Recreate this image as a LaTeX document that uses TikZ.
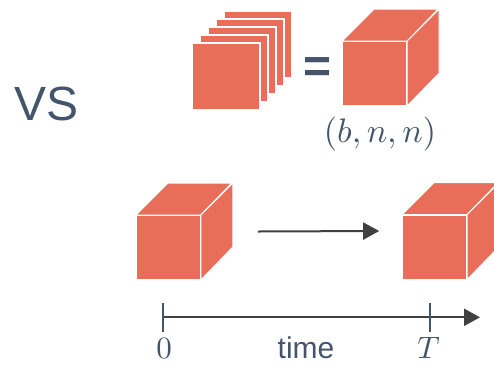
\documentclass[tikz,border=0pt]{standalone}
\usepackage{fontspec}
\newfontfamily\arialfont{Liberation Sans}
\usepackage{tikz}
\usetikzlibrary{positioning,arrows.meta}
\definecolor{cubered}{RGB}{233,110,90}
\definecolor{slate}{RGB}{68,84,106}
\definecolor{darkline}{RGB}{64,64,64}
\tikzset{
  face/.style={fill=cubered,draw=white,line width=1pt,minimum size=64pt,inner sep=0pt},
  sheet/.style={fill=cubered,draw=white,line width=1.2pt,minimum width=68pt,minimum height=67pt,inner sep=0pt},
  cubeside/.style={fill=cubered,draw=white,line width=1pt,line join=round},
  arr/.style={darkline,line width=2pt,-{Triangle[length=16pt,width=17pt]}},
  tick/.style={slate,line width=2pt},
  lbl/.style={text=slate,inner sep=0pt}
}
\newcommand{\cubeat}[2]{
  \node[face] (#1) at (#2) {};
  \path[cubeside] (#1.north west) -- ++(32,-32) -- ++(64,0) -- (#1.north east) -- cycle;
  \path[cubeside] (#1.north east) -- ++(32,-32) -- ++(0,64) -- (#1.south east) -- cycle;
}

\begin{document}
\begin{tikzpicture}[x=1pt,y=-1pt]
  \useasboundingbox (0,0) rectangle (494,365);
  \clip (0,0) rectangle (494,365);
  \node[lbl,anchor=base west,font=\arialfont\fontsize{48}{48}\selectfont] (vs) at (14,120) {VS};
  \foreach \k in {4,3,2,1,0}
  {
  \node[sheet] (sheet\k) at (226+8*\k,76.5-8*\k) {};
}
\node[lbl,font=\arialfont\bfseries\fontsize{48}{48}\selectfont] (eq) at (318,70) {=};
\cubeat{batch}{374.7,73.5}
\node[lbl,anchor=base,scale=3.4] (shape) at (380,142) {$(b,n,n)$};
\cubeat{start}{168.3,247.5}
\cubeat{end}{434.7,247}
\draw[arr] ([xshift=57pt,yshift=16pt]start.east) -- ([xshift=-23pt,yshift=16pt]end.west);
\coordinate (t0) at (163.3,317.3);
\coordinate (tT) at (430,317.3);
\coordinate (tend) at (480,317.3);
\draw[arr,line width=2.3pt] (t0) -- (tend);
\foreach \t in {t0,tT}
  \draw[tick] (\t) ++(0,-14.5) -- ++(0,29);
\node[lbl,anchor=base,scale=3.1] (zero) at (164,358) {$0$};
\node[lbl,anchor=base,scale=3.1] (bigT) at (428.5,358) {$T$};
\node[lbl,anchor=base,font=\arialfont\fontsize{30}{30}\selectfont] (time) at (306,358) {time};
\end{tikzpicture}
\end{document}
